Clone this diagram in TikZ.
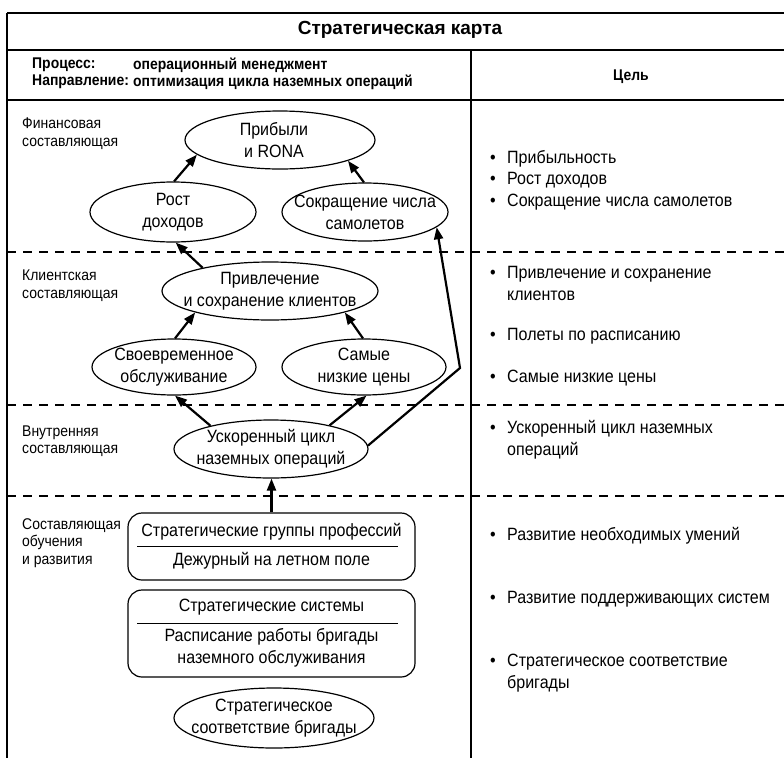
\documentclass[tikz,border=0pt]{standalone}
\usepackage{fontspec}
\setmainfont{Liberation Sans}[FakeStretch=0.9]
\newfontfamily\ttlfamily{Liberation Sans}
\usetikzlibrary{shapes.geometric,arrows.meta}

\newcommand{\elfont}{\fontsize{17.8}{22}\selectfont}
\newcommand{\lblfont}{\fontsize{15.5}{17.5}\selectfont}
\newcommand{\hdrfont}{\bfseries\fontsize{15.5}{17}\selectfont}
\newcommand{\ttlfont}{\ttlfamily\bfseries\fontsize{19}{22}\selectfont}
\newcommand{\gbul}{\makebox[17pt][l]{\textbullet}}

\tikzset{
  frame/.style={line width=1.2pt},
  sep/.style={line width=1.1pt, dash pattern=on 9pt off 7pt},
  ell/.style 2 args={draw, ellipse, line width=1.2pt, minimum width=#1pt,
    minimum height=#2pt, inner sep=0pt},
  eltext/.style={inner sep=0pt, align=center, font=\elfont},
  stratbox/.style={draw, rounded corners=14pt, line width=1.2pt,
    minimum width=287pt, inner sep=0pt, align=center, font=\elfont},
  arr/.style={line width=2.2pt, -{Triangle[length=12pt,width=9pt]}},
  lbl/.style={anchor=west, inner sep=0pt, align=left, font=\lblfont},
  goal/.style={anchor=west, inner sep=0pt, align=left, font=\elfont},
  hdr/.style={anchor=west, inner sep=0pt, font=\hdrfont},
}

\begin{document}
\begin{tikzpicture}[x=1pt, y=-1pt]
\useasboundingbox (0,0) rectangle (784,758);

% table frame
\draw[frame] (7,13) -- (784,13);
\draw[frame] (7,13) -- (7,758);
\draw[frame] (7,50) -- (784,50);
\draw[frame] (7,100) -- (784,100);
\draw[frame] (471,50) -- (471,758);

% borders between the perspectives
\draw[sep] (7,252) -- (784,252);
\draw[sep] (7,405) -- (784,405);
\draw[sep] (7,496) -- (784,496);

% header
\node[inner sep=0pt, font=\ttlfont] (title) at (400,30) {Стратегическая карта};
\node[hdr] (proc) at (32,65) {Процесс:};
\node[hdr] (procv) at (133,65) {операционный менеджмент};
\node[hdr] (dir) at (32,82) {Направление:};
\node[hdr] (dirv) at (133,82) {оптимизация цикла наземных операций};
\node[inner sep=0pt, font=\hdrfont] (goalhead) at (631,77) {Цель};

% perspective labels
\node[lbl] (lfin) at (22,133.5) {Финансовая\\составляющая};
\node[lbl] (lcli) at (22,285.5) {Клиентская\\составляющая};
\node[lbl] (lint) at (22,441) {Внутренняя\\составляющая};
\node[lbl] (llrn) at (22,543) {Составляющая\\обучения\\и развития};

% objectives
\node[ell={190}{58}] (prib) at (280,140) {};
\node[eltext] (prib-t) at ([xshift=-6pt]prib.center) {Прибыли\\и RONA};
\node[ell={166}{60}] (rost) at (173,212) {};
\node[eltext] (rost-t) at (rost) {Рост\\доходов};
\node[ell={166}{58}] (sokr) at (365,212) {};
\node[eltext] (sokr-t) at (sokr) {Сокращение числа\\самолетов};
\node[ell={216}{58}] (privl) at (270,291) {};
\node[eltext] (privl-t) at (privl) {Привлечение\\и сохранение клиентов};
\node[ell={164}{56}] (svoe) at (174,367) {};
\node[eltext] (svoe-t) at (svoe) {Своевременное\\обслуживание};
\node[ell={164}{56}] (samye) at (364,367) {};
\node[eltext] (samye-t) at (samye) {Самые\\низкие цены};
\node[ell={194}{58}] (usk) at (271,449) {};
\node[eltext] (usk-t) at (usk) {Ускоренный цикл\\наземных операций};

\node[stratbox, minimum height=67pt] (grp) at (271.5,546.5)
  {Стратегические группы профессий\\[7pt]Дежурный на летном поле};
\draw[line width=0.9pt] ([xshift=10pt]grp.west) -- ([xshift=-18pt]grp.east);
\node[stratbox, minimum height=87pt] (sys) at (271.5,633.5)
  {Стратегические системы\\[8pt]Расписание работы бригады\\наземного обслуживания};
\draw[line width=0.9pt] ([xshift=10pt,yshift=10.5pt]sys.west) -- ([xshift=-18pt,yshift=10.5pt]sys.east);
\node[ell={200}{60}] (fit) at (274,718) {};
\node[eltext] (fit-t) at (fit) {Стратегическое\\соответствие бригады};

% cause-and-effect links
\coordinate (bend) at (460,368);
\draw[arr] (rost.88) -- (prib.190);
\draw[arr] (sokr.92) -- (prib.343);
\draw[arr] (privl.161) -- (rost.275);
\draw[arr] (svoe.88) -- (privl.196);
\draw[arr] (samye.92) -- (privl.344);
\draw[arr] (usk.159) -- (svoe.272);
\draw[arr] (usk.22) -- (samye.275);
\draw[arr] (usk.2) -- (bend) -- (sokr.348);
\draw[arr] (grp.north) -- (grp.north |- usk.south);

% goals
\node[goal] (g1) at (490,159) {\gbul Прибыльность};
\node[goal] (g2) at (490,180) {\gbul Рост доходов};
\node[goal] (g3) at (490,202) {\gbul Сокращение числа самолетов};
\node[goal] (g4) at (490,283) {\gbul Привлечение и сохранение\\\hspace*{17pt}клиентов};
\node[goal] (g5) at (490,336) {\gbul Полеты по расписанию};
\node[goal] (g6) at (490,378) {\gbul Самые низкие цены};
\node[goal] (g7) at (490,440) {\gbul Ускоренный цикл наземных\\\hspace*{17pt}операций};
\node[goal] (g8) at (490,536) {\gbul Развитие необходимых умений};
\node[goal] (g9) at (490,599) {\gbul Развитие поддерживающих систем};
\node[goal] (g10) at (490,673) {\gbul Стратегическое соответствие\\\hspace*{17pt}бригады};
\end{tikzpicture}
\end{document}
